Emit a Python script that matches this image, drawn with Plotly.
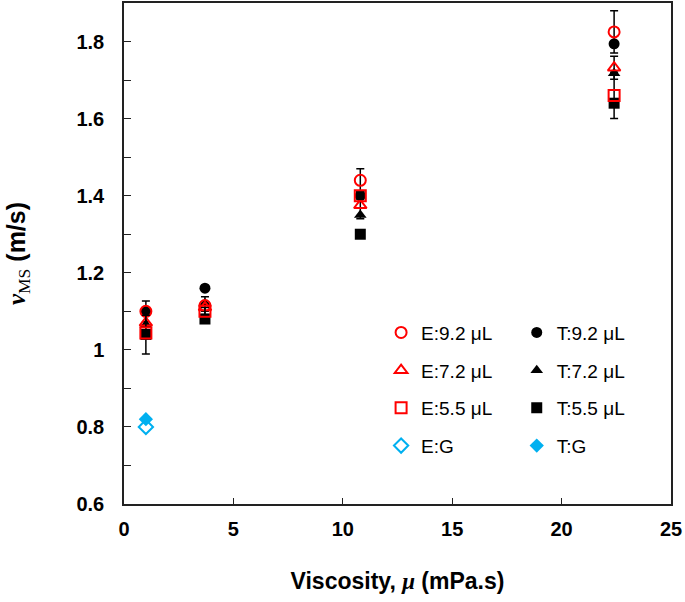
import plotly.graph_objects as go

# Viscosity (mPa.s)
viscosity = [1.0, 3.7, 10.8, 22.4]
viscosity_g = [1.0]

# Experimental (E) velocities and error bars (m/s)
e_92 = [1.10, 1.115, 1.44, 1.825]
e_92_err = [0.027, 0.023, 0.03, 0.055]
e_72 = [1.07, 1.11, 1.375, 1.732]
e_72_err = [0.02, 0.01, 0.035, 0.03]
e_55 = [1.044, 1.10, 1.40, 1.66]
e_55_err = [0.055, 0.01, 0.01, 0.06]
e_g = [0.80]

# Theoretical (T) velocities (m/s)
t_92 = [1.10, 1.16, 1.40, 1.794]
t_72 = [1.065, 1.12, 1.35, 1.718]
t_55 = [1.04, 1.08, 1.30, 1.64]
t_g = [0.82]

RED = "#FF0000"
BLUE = "#00B0F0"
FONT = "Liberation Sans"

fig = go.Figure()

def err(arr):
    return dict(type="data", array=arr, visible=True, color="black",
                thickness=1.5, width=4)

# Theory traces (drawn first, underneath)
t_specs = [("T:9.2 μL", t_92, "circle"), ("T:7.2 μL", t_72, "triangle-up"),
           ("T:5.5 μL", t_55, "square")]
for name, y, sym in t_specs:
    fig.add_trace(go.Scatter(x=viscosity, y=y, mode="markers", name=name,
                             legend="legend2", legendgroup=name,
                             marker=dict(symbol=sym, size=11, color="black")))
fig.add_trace(go.Scatter(x=viscosity_g, y=t_g, mode="markers", name="T:G",
                         legend="legend2", legendgroup="T:G",
                         marker=dict(symbol="diamond", size=11, color=BLUE)))

# Experimental traces
e_specs = [("E:9.2 μL", e_92, e_92_err, "circle-open"),
           ("E:7.2 μL", e_72, e_72_err, "triangle-up-open"),
           ("E:5.5 μL", e_55, e_55_err, "square-open")]
for name, y, ye, sym in e_specs:
    fig.add_trace(go.Scatter(x=viscosity, y=y, mode="markers", name=name,
                             legend="legend", legendgroup=name,
                             error_y=err(ye),
                             marker=dict(symbol=sym, size=11, color=RED,
                                         line=dict(color=RED, width=2))))
fig.add_trace(go.Scatter(x=viscosity_g, y=e_g, mode="markers", name="E:G",
                         legend="legend", legendgroup="E:G",
                         marker=dict(symbol="diamond-open", size=11, color=BLUE,
                                     line=dict(color=BLUE, width=2))))

legend_common = dict(font=dict(family=FONT, size=19, color="black"),
                     bgcolor="rgba(0,0,0,0)", tracegroupgap=10,
                     traceorder="grouped", yanchor="top", xanchor="left")

fig.update_layout(
    width=685, height=602,
    margin=dict(l=124, r=14, t=3, b=98),
    plot_bgcolor="white", paper_bgcolor="white",
    font=dict(family=FONT, color="black"),
    showlegend=True,
    legend=dict(x=0.47, y=0.38, **legend_common),
    legend2=dict(x=0.718, y=0.38, **legend_common),
    xaxis=dict(
        range=[0, 25], tickvals=[0, 5, 10, 15, 20, 25],
        ticks="inside", ticklen=6, tickwidth=1.3, tickcolor="#222",
        showline=True, linecolor="#222", linewidth=1.5, mirror=True,
        showgrid=False, zeroline=False, automargin=False,
        tickfont=dict(family=FONT, size=20, color="black", weight="bold"),
        ticklabelstandoff=6,
        title=dict(text="<b>Viscosity, </b><span style='font-family:Liberation Serif'><i><b>μ</b></i></span><b> (mPa.s)</b>",
                   font=dict(family=FONT, size=23, color="black"), standoff=34),
    ),
    yaxis=dict(
        range=[0.6, 1.9], tickvals=[0.6, 0.8, 1.0, 1.2, 1.4, 1.6, 1.8],
        ticktext=["0.6", "0.8", "1", "1.2", "1.4", "1.6", "1.8"],
        ticks="inside", ticklen=7, tickwidth=1.3, tickcolor="#222",
        minor=dict(tickvals=[0.7, 0.9, 1.1, 1.3, 1.5, 1.7], ticks="inside",
                   ticklen=7, tickwidth=1.3, tickcolor="#222"),
        showline=True, linecolor="#222", linewidth=1.5, mirror=True,
        showgrid=False, zeroline=False, automargin=False,
        tickfont=dict(family=FONT, size=20, color="black", weight="bold"),
        ticklabelstandoff=14,
        title=dict(text="<span style='font-family:Liberation Serif'><i><b>v</b></i><sub>MS</sub></span><b> (m/s)</b>",
                   font=dict(family=FONT, size=25, color="black"), standoff=44),
    ),
)

fig.write_html("out.html", config={"displayModeBar": False},
               post_script="document.body.style.margin='0';")
